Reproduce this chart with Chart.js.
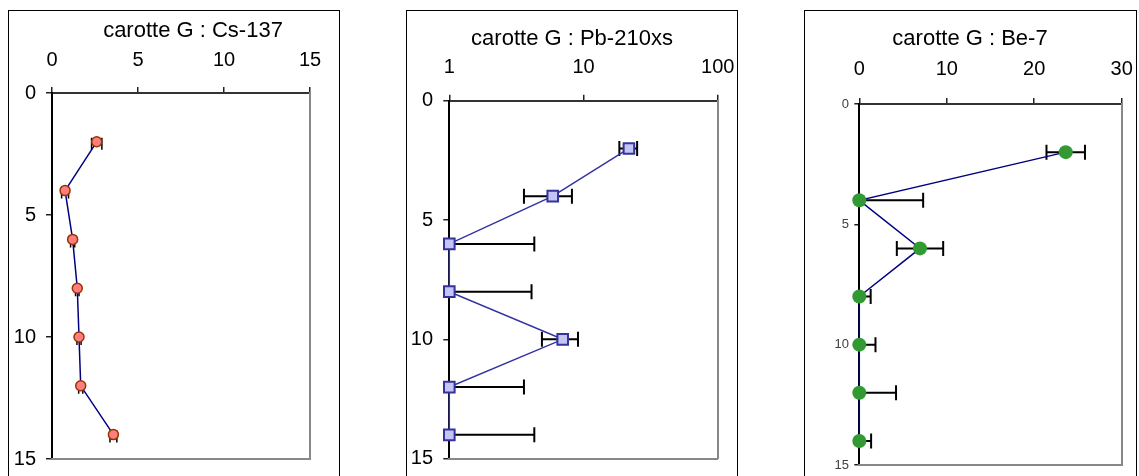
<!DOCTYPE html>
<html>
<head>
<meta charset="utf-8">
<script src="https://cdn.jsdelivr.net/npm/chart.js@4.4.1/dist/chart.umd.min.js"></script>
<style>
  html, body { margin: 0; padding: 0; background: #fff; width: 1139px; height: 476px; overflow: hidden; }
  .panel { position: absolute; top: 10px; height: 480px; border: 1px solid #000; box-sizing: border-box; overflow: visible; }
  .panel canvas { position: absolute; left: 0; top: 0; }
</style>
</head>
<body>
<div class="panel" style="left:8px;width:332px;"><canvas id="c1" width="368" height="470"></canvas></div>
<div class="panel" style="left:406px;width:332px;"><canvas id="c2" width="330" height="470"></canvas></div>
<div class="panel" style="left:804px;width:333px;"><canvas id="c3" width="330" height="470"></canvas></div>
<script>
// ---- data ----
const depths = [2, 4, 6, 8, 10, 12, 14];
const cs137 = [2.6, 0.76, 1.2, 1.47, 1.57, 1.67, 3.57];
const cs137Err = [0.3, 0.2, 0.12, 0.1, 0.12, 0.12, 0.2];
const pb210xs = [21.8, 5.9, 1, 1, 7.0, 1, 1];
const pb210xsErr = [3.3, 2.3, 3.3, 3.1, 2.1, 2.6, 3.3];
const be7 = [23.6, 0, 6.94, 0, 0, 0, 0];
const be7Err = [2.2, 7.3, 2.65, 1.3, 1.85, 4.2, 1.35];
const depthTicks = [0, 5, 10, 15];
const csTicks = [0, 5, 10, 15];
const pbTicks = [1, 10, 100];
const beTicks = [0, 10, 20, 30];
const titles = ['carotte G : Cs-137', 'carotte G : Pb-210xs', 'carotte G : Be-7'];

const FONT = "'Liberation Sans', Arial, sans-serif";

const errorBars = {
  id: 'errorBars',
  beforeDatasetsDraw(chart, args, opts) {
    const { ctx, chartArea: a, scales: { x, y } } = chart;
    const pts = chart.data.datasets[0].data;
    ctx.save();
    ctx.beginPath();
    ctx.rect(a.left, a.top, a.right - a.left, a.bottom - a.top);
    ctx.clip();
    ctx.strokeStyle = opts.color;
    ctx.lineWidth = opts.width;
    const h = opts.cap / 2;
    pts.forEach((p, i) => {
      const e = opts.err[i];
      const px = x.getPixelForValue(p.x);
      const py = y.getPixelForValue(p.y) + (opts.dy || 0);
      const lo = p.x - e, hi = p.x + e;
      const pl = lo > 0 || x.type !== 'logarithmic' ? x.getPixelForValue(lo) : null;
      const ph = x.getPixelForValue(hi);
      ctx.beginPath();
      ctx.moveTo(pl !== null ? pl : px, py);
      ctx.lineTo(ph, py);
      if (pl !== null) { ctx.moveTo(pl, py - h); ctx.lineTo(pl, py + h); }
      ctx.moveTo(ph, py - h); ctx.lineTo(ph, py + h);
      ctx.stroke();
    });
    ctx.restore();
  }
};

function makeChart(id, o) {
  const data = depths.map((d, i) => ({ x: o.values[i], y: d }));
  return new Chart(document.getElementById(id), {
    type: 'scatter',
    data: {
      datasets: [{
        data: data,
        showLine: true,
        borderColor: o.lineColor,
        borderWidth: 1.5,
        pointStyle: o.pointStyle,
        pointRadius: o.pointRadius,
        pointHoverRadius: o.pointRadius,
        pointBackgroundColor: o.pointBg,
        pointBorderColor: o.pointBorder,
        pointBorderWidth: o.pointBorderWidth,
        clip: false
      }]
    },
    options: {
      responsive: false,
      animation: false,
      events: [],
      layout: { padding: 0 },
      plugins: {
        legend: { display: false },
        tooltip: { enabled: false },
        title: {
          display: true, text: o.title, color: '#000',
          font: { family: FONT, size: 22, weight: 'normal', lineHeight: 1.2 },
          padding: { top: o.titlePad, bottom: 0 }
        },
        errorBars: { err: o.err, cap: o.cap, width: o.errWidth, color: '#000', dy: o.errDy || 0 }
      },
      scales: {
        x: {
          type: o.xType, position: 'top', min: o.xMin, max: o.xMax,
          afterBuildTicks: s => { s.ticks = o.xTicks.map(v => ({ value: v })); },
          afterFit: s => { s.height = o.xHeight; },
          ticks: {
            color: '#000', font: { family: FONT, size: 20, lineHeight: o.xTickLH },
            padding: 0, autoSkip: false, maxRotation: 0, minRotation: 0,
            callback: v => String(v)
          },
          grid: { display: true, drawOnChartArea: false, drawTicks: true, tickLength: 6, tickColor: '#222', tickWidth: 1.5, lineWidth: 1.5 },
          border: { display: true, color: '#333', width: 2 }
        },
        y: {
          type: 'linear', reverse: true, min: 0, max: 15,
          afterBuildTicks: s => { s.ticks = depthTicks.map(v => ({ value: v })); },
          afterFit: s => { s.width = o.yWidth; },
          ticks: {
            color: o.yTickColor, font: { family: FONT, size: o.yTickSize, lineHeight: 1.2 },
            padding: o.yTickPad, autoSkip: false, callback: v => String(v)
          },
          grid: { display: true, drawOnChartArea: false, drawTicks: true, tickLength: o.yTickLen, tickColor: '#222', tickWidth: 1.5, lineWidth: 1.5 },
          border: { display: true, color: '#000', width: 2 }
        },
        y2: {
          type: 'linear', position: 'right', display: true,
          ticks: { display: false }, grid: { display: false },
          border: { display: true, color: '#888', width: 2 },
          afterFit: s => { s.width = o.y2Width; }
        },
        x2: {
          type: 'linear', position: 'bottom', display: true,
          ticks: { display: false }, grid: { display: false },
          border: { display: true, color: '#888', width: 2 },
          afterFit: s => { s.height = o.x2Height; }
        }
      }
    },
    plugins: [errorBars]
  });
}

makeChart('c1', {
  title: titles[0], values: cs137, err: cs137Err,
  xType: 'linear', xMin: 0, xMax: 15, xTicks: csTicks,
  lineColor: '#000080', pointStyle: 'circle', pointRadius: 5,
  pointBg: '#FF7F7F', pointBorder: '#993300', pointBorderWidth: 1.5,
  cap: 12, errWidth: 1.5, errDy: 2,
  titlePad: 6.8, xHeight: 48.8, xTickLH: 2.65,
  yWidth: 43, yTickPad: 10, yTickLen: 6, yTickSize: 20, yTickColor: '#000',
  y2Width: 67, x2Height: 21
});

makeChart('c2', {
  title: titles[1], values: pb210xs, err: pb210xsErr,
  xType: 'logarithmic', xMin: 1, xMax: 100, xTicks: pbTicks,
  lineColor: '#3333A0', pointStyle: 'rect', pointRadius: 7.5,
  pointBg: '#C4C4F6', pointBorder: '#333399', pointBorderWidth: 2,
  cap: 15, errWidth: 2,
  titlePad: 14.8, xHeight: 48.5, xTickLH: 2.77,
  yWidth: 42.3, yTickPad: 10.3, yTickLen: 6, yTickSize: 20, yTickColor: '#000',
  y2Width: 19.3, x2Height: 21
});

makeChart('c3', {
  title: titles[2], values: be7, err: be7Err,
  xType: 'linear', xMin: 0, xMax: 30, xTicks: beTicks,
  lineColor: '#000080', pointStyle: 'circle', pointRadius: 7,
  pointBg: '#339933', pointBorder: '#339933', pointBorderWidth: 0,
  cap: 15, errWidth: 2,
  titlePad: 14.8, xHeight: 51.8, xTickLH: 2.9,
  yWidth: 54.3, yTickPad: 5.3, yTickLen: 5, yTickSize: 13, yTickColor: '#404040',
  y2Width: 13.3, x2Height: 16
});
</script>
</body>
</html>
